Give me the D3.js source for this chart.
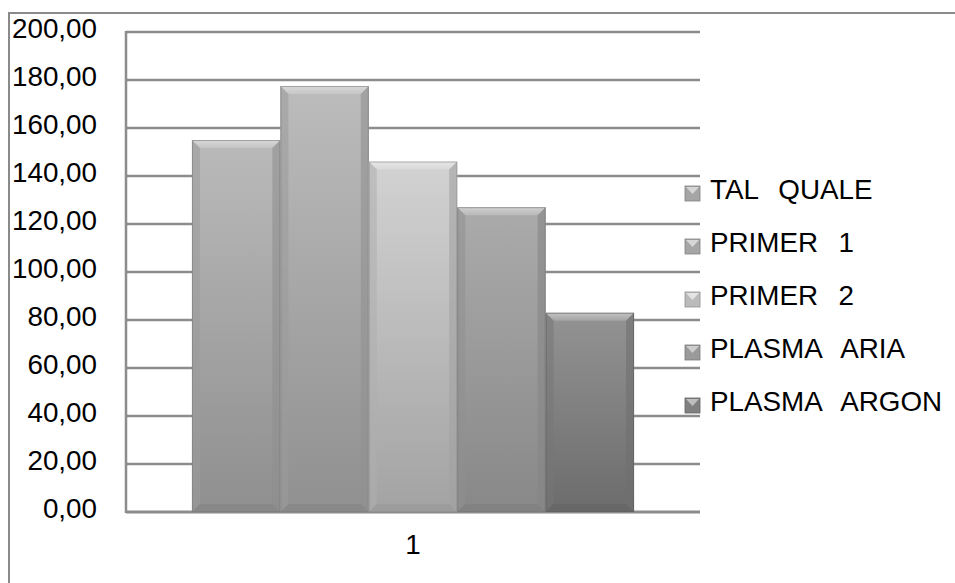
<!DOCTYPE html>
<html>
<head>
<meta charset="utf-8">
<script src="https://cdn.jsdelivr.net/npm/d3@7"></script>
<style>
  html, body { margin: 0; padding: 0; background: #fff; }
  svg { display: block; font-family: "Liberation Sans", Arial, sans-serif; }
  text { white-space: pre; }
</style>
</head>
<body>
<svg id="chart" width="955" height="583"></svg>
<script>
// Chart data
const categories = ["1"];
const seriesNames = ["TAL  QUALE", "PRIMER  1", "PRIMER  2", "PLASMA  ARIA", "PLASMA  ARGON"];
const seriesValues = [155, 177.5, 146, 127, 83];
const yTicks = [0, 20, 40, 60, 80, 100, 120, 140, 160, 180, 200];
// top / bottom shades of each series' gradient
const shadeTop = ["#bababa", "#bcbcbc", "#d2d2d2", "#ababab", "#939393"];
const shadeBottom = ["#8f8f8f", "#909090", "#a3a3a3", "#888888", "#6c6c6c"];

const svg = d3.select("#chart");
const defs = svg.append("defs");

const locale = d3.formatLocale({ decimal: ",", thousands: ".", grouping: [3], currency: ["", "€"] });
const fmt = locale.format(".2f");

const plot = { left: 126, right: 700, top: 32, bottom: 512 };
const fontSize = 27.8;

const y = d3.scaleLinear().domain([0, 200]).range([plot.bottom, plot.top]);
const x = d3.scaleBand().domain(categories).range([plot.left, plot.right]);
const xs = d3.scaleBand().domain(seriesNames).range([0, x.bandwidth()])
  .paddingInner(0).paddingOuter(0.746);

// outer chart frame
svg.append("line").attr("x1", 9).attr("x2", 955).attr("y1", 13).attr("y2", 13)
  .attr("stroke", "#8a8a8a").attr("stroke-width", 2);
svg.append("line").attr("x1", 9).attr("x2", 9).attr("y1", 12).attr("y2", 583)
  .attr("stroke", "#8a8a8a").attr("stroke-width", 2);

// gridlines
svg.append("g").selectAll("line").data(yTicks).join("line")
  .attr("x1", plot.left).attr("x2", plot.right)
  .attr("y1", d => y(d)).attr("y2", d => y(d))
  .attr("stroke", "#8c8c8c").attr("stroke-width", d => d === 0 ? 3 : 2.5);

// plot-area left edge
svg.append("line").attr("x1", plot.left).attr("x2", plot.left)
  .attr("y1", plot.top - 1).attr("y2", plot.bottom + 1)
  .attr("stroke", "#8c8c8c").attr("stroke-width", 2.5);

// gradients
seriesNames.forEach((s, i) => {
  const g = defs.append("linearGradient").attr("id", "g" + i)
    .attr("x1", 0).attr("y1", 0).attr("x2", 0).attr("y2", 1);
  g.append("stop").attr("offset", "0%").attr("stop-color", shadeTop[i]);
  g.append("stop").attr("offset", "100%").attr("stop-color", shadeBottom[i]);
  const t = defs.append("linearGradient").attr("id", "t" + i)
    .attr("x1", 0).attr("y1", 0).attr("x2", 0).attr("y2", 1);
  t.append("stop").attr("offset", "0%").attr("stop-color", d3.interpolateRgb(shadeTop[i], "#ffffff")(0.45));
  t.append("stop").attr("offset", "100%").attr("stop-color", d3.interpolateRgb(shadeTop[i], "#ffffff")(0.15));
});

// bars with bevelled edges
const bev = 8;
const bars = svg.append("g").selectAll("g").data(seriesNames).join("g")
  .attr("transform", d => `translate(${x(categories[0]) + xs(d)},0)`);

bars.each(function (d, i) {
  const g = d3.select(this);
  const w = xs.bandwidth();
  const top = y(seriesValues[i]);
  const bot = y(0);
  const h = bot - top;
  g.append("rect").attr("x", 0).attr("y", top).attr("width", w).attr("height", h)
    .attr("fill", `url(#g${i})`);
  // top bevel
  g.append("path").attr("d", `M0,${top}L${w},${top}L${w - bev},${top + bev}L${bev},${top + bev}Z`)
    .attr("fill", `url(#t${i})`);
  // side bevels
  const side = d3.interpolateRgb(shadeTop[i], shadeBottom[i])(0.55);
  g.append("path").attr("d", `M0,${top}L${bev},${top + bev}L${bev},${bot - bev}L0,${bot}Z`)
    .attr("fill", d3.color(side).darker(0.15)).attr("opacity", 0.55);
  g.append("path").attr("d", `M${w},${top}L${w - bev},${top + bev}L${w - bev},${bot - bev}L${w},${bot}Z`)
    .attr("fill", d3.color(side).darker(0.35)).attr("opacity", 0.6);
  // bottom bevel
  g.append("path").attr("d", `M0,${bot}L${bev},${bot - bev}L${w - bev},${bot - bev}L${w},${bot}Z`)
    .attr("fill", d3.color(shadeBottom[i]).darker(0.2)).attr("opacity", 0.7);
  // outline
  g.append("rect").attr("x", 0.5).attr("y", top + 0.5).attr("width", w - 1).attr("height", h - 1)
    .attr("fill", "none").attr("stroke", d3.color(shadeBottom[i]).darker(0.4)).attr("stroke-width", 1)
    .attr("opacity", 0.6);
});

// y axis labels
const yAxis = d3.axisLeft(y).tickValues(yTicks).tickFormat(fmt).tickSize(0).tickPadding(0);
const ya = svg.append("g").attr("transform", "translate(97,0)").call(yAxis);
ya.select(".domain").remove();
ya.selectAll("text").attr("font-size", fontSize).attr("fill", "#000")
  .attr("font-family", "Liberation Sans, Arial, sans-serif")
  .attr("dy", null).attr("dominant-baseline", "alphabetic")
  .attr("transform", "translate(0,5)");

// x category label
svg.append("g").selectAll("text").data(categories).join("text")
  .attr("x", d => x(d) + x.bandwidth() / 2).attr("y", 554)
  .attr("text-anchor", "middle").attr("font-size", fontSize).attr("fill", "#000")
  .text(d => d);

// legend
const legend = svg.append("g").selectAll("g").data(seriesNames).join("g")
  .attr("transform", (d, i) => `translate(685,${199 + i * 53})`);
legend.append("rect").attr("x", 0).attr("y", -13).attr("width", 15).attr("height", 15)
  .attr("fill", (d, i) => d3.interpolateRgb(shadeTop[i], shadeBottom[i])(0.5))
  .attr("stroke", (d, i) => d3.color(shadeBottom[i]).darker(0.3)).attr("stroke-width", 0.8);
legend.append("path").attr("d", "M1,-12L14,-12L7.5,-5Z")
  .attr("fill", (d, i) => d3.interpolateRgb(shadeTop[i], "#fff")(0.4));
legend.append("text").attr("x", 25).attr("y", 0)
  .attr("font-size", fontSize).attr("fill", "#000")
  .attr("word-spacing", 2.5).text(d => d);
</script>
</body>
</html>
